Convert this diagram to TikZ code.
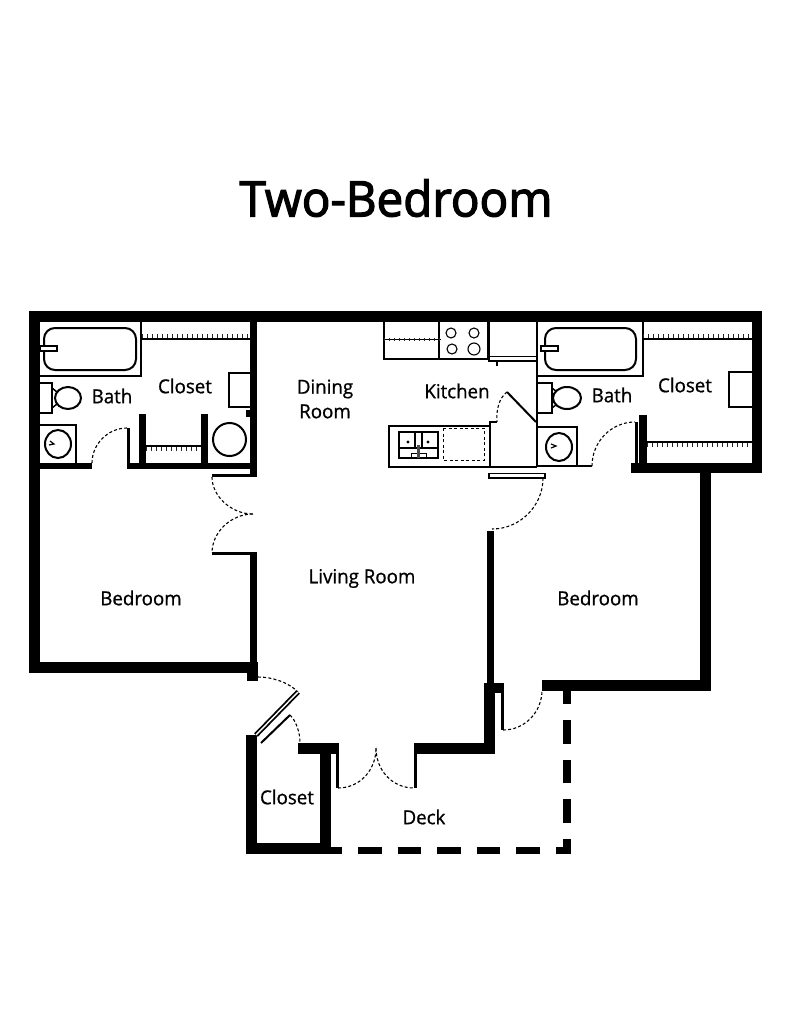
\documentclass[tikz,border=0pt]{standalone}
\usepackage{fontspec}
\setmainfont{Open Sans}
\newfontfamily\titlefont[FakeStretch=0.97,FakeBold=2.6]{Open Sans}
\newfontfamily\labelfont[FakeStretch=0.97,FakeBold=0.9]{Open Sans}

\tikzset{
	wall/.style={fill=black},
	thinline/.style={draw=black,line width=2pt},
	fixture/.style={draw=black,line width=2pt,fill=white},
	swing/.style={draw=black,line width=1.1pt,dash pattern=on 3pt off 2.2pt},
	shelfticks/.style={draw=black!85,line width=3.5pt,dash pattern=on 1.2pt off 3.8pt},
	deckrail/.style={draw=black,line width=7.5pt,dash pattern=on 23.5pt off 16pt,dash phase=12.5pt},
	roomlabel/.style={font=\labelfont\fontsize{19.3}{24.5}\selectfont,align=center,inner sep=0pt}
}

\begin{document}
\begin{tikzpicture}[x=1pt,y=-1pt]
	\useasboundingbox (0,0) rectangle (791,1024);
	\node[font=\titlefont\fontsize{49}{55}\selectfont,inner sep=0pt] (title) at (396,198) {Two-Bedroom};
	% outer walls
	\fill[wall] (29,311) rectangle (762,322);
	\fill[wall] (29,311) rectangle (40,673);
	\fill[wall] (29,662) rectangle (258,673);
	\fill[wall] (250,322) rectangle (257,476);
	\fill[wall] (250,553) rectangle (257,681);
	\fill[wall] (247,662) rectangle (258,681);
	\fill[wall] (40,463) rectangle (92,469);
	\fill[wall] (127,463) rectangle (257,469);
	\fill[wall] (139,414) rectangle (146,463);
	\fill[wall] (201,414) rectangle (208,463);
	\fill[wall] (246,410) rectangle (250,417);
	\fill[wall] (752,311) rectangle (762,473);
	\fill[wall] (631,463) rectangle (762,473);
	\fill[wall] (639,415) rectangle (647,463);
	\fill[wall] (700,463) rectangle (711,691);
	\fill[wall] (542,680) rectangle (711,691);
	\fill[wall] (487,531) rectangle (494,683);
	\fill[wall] (484,683) rectangle (495,754);
	\fill[wall] (484,683) rectangle (503,693);
	\fill[wall] (414,743) rectangle (495,754);
	\fill[wall] (246,735) rectangle (257,854);
	\fill[wall] (246,843) rectangle (331,854);
	\fill[wall] (320,743) rectangle (331,854);
	\fill[wall] (298,743) rectangle (338,754);
	% door jambs
	\fill[wall] (127,428) rectangle (129.5,463);
	\fill[wall] (212,474) rectangle (257,477);
	\fill[wall] (212,552) rectangle (257,555);
	\fill[wall] (336,743) rectangle (338.5,788);
	\fill[wall] (414,743) rectangle (416.5,788);
	\fill[wall] (501,683) rectangle (503.5,730);
	\fill[wall] (635,422) rectangle (638,463);
	% deck
	\draw[deckrail] (331,850.5) -- (567,850.5) -- (567,691);
	% door swings
	\draw[swing] (92,463) .. controls (92,444) and (108,428) .. (127,428);
	\draw[swing] (212,477) .. controls (212,496) and (231,514) .. (253,514);
	\draw[swing] (253,514) .. controls (231,514) and (212,532) .. (212,553);
	\draw[swing] (258,677) .. controls (272,677) and (288,682) .. (298,692);
	\draw[swing] (290,715) .. controls (296,721) and (300,732) .. (300,743);
	\draw[swing] (338,788) .. controls (360,788) and (376,770) .. (376,748);
	\draw[swing] (376,748) .. controls (376,770) and (392,788) .. (414,788);
	\draw[swing] (503,730) .. controls (525,730) and (542,712) .. (542,690);
	\draw[swing] (507,392) .. controls (499,398) and (496,410) .. (497,422);
	\draw[swing] (543,478) .. controls (543,506) and (520,529) .. (492,529);
	\draw[swing] (592,466) .. controls (592,442) and (611,422) .. (635,422);
	% closet bifold
	\draw[line width=5pt] (256,735) -- (298,692);
	\draw[white,line width=1.4pt] (256,735) -- (298,692);
	\draw[line width=2pt] (261,743) -- (290,715);
	% left bath
	\draw[thinline] (141,322) -- (141,376) -- (40,376);
	\draw[thinline,rounded corners=11pt] (44,328) rectangle (136,370);
	\draw[fixture,line width=1.5pt] (40,346) rectangle (57,351);
	\draw[thinline] (40,383) -- (52,383) -- (52,413) -- (40,413);
	\draw[line width=1.5pt] (52,388) -- (57,392);
	\draw[line width=1.5pt] (52,408) -- (57,404);
	\draw[fixture] (68,398) ellipse (13 and 11);
	\draw[thinline] (40,425) -- (76,425) -- (76,463);
	\draw[fixture] (58,444) ellipse (13 and 14);
	\draw[line width=1.2pt] (49,445) -- (54,444) -- (50,441);
	% left closet
	\draw[thinline] (142,339) -- (250,339);
	\draw[shelfticks] (142,336) -- (250,336);
	\draw[thinline] (146,446) -- (201,446);
	\draw[shelfticks] (146,449) -- (201,449);
	\draw[thinline] (250,373) -- (229,373) -- (229,407) -- (250,407);
	\draw[fixture] (229.5,439.5) circle (16.5);
	% kitchen cabinets and stove
	\draw[thinline] (384,322) -- (384,359) -- (488,359) -- (488,322);
	\draw[thinline] (439,322) -- (439,359);
	\draw[line width=1pt] (384,339) -- (441,339);
	\draw[shelfticks,line width=3pt] (384,339) -- (441,339);
	\draw[line width=1.1pt] (451,333) circle (5);
	\draw[line width=1.1pt] (474,333) circle (5);
	\draw[line width=1.1pt] (452,349) circle (5);
	\draw[line width=1.1pt] (474,349) circle (6);
	% fridge
	\draw[thinline] (489,322) -- (489,361) -- (537,361);
	\draw[line width=1.2pt] (489,356.5) -- (537,356.5);
	\draw[line width=1.5pt] (497,361) -- (497,366);
	% partition and pantry
	\draw[thinline] (537,322) -- (537,467);
	\draw[thinline] (507,392) -- (536,422);
	\draw[thinline] (497,422) -- (490,422) -- (490,467);
	\draw[thinline] (490,426) -- (389,426) -- (389,467) -- (537,467);
	% kitchen sink
	\draw[line width=2pt] (399,432) rectangle (438,458);
	\draw[line width=1.1pt] (399,448) -- (438,448);
	\draw[line width=1.1pt] (415,432) -- (415,448);
	\draw[line width=1.1pt] (422,432) -- (422,448);
	\fill (408,442) circle (1.6);
	\fill (428,442) circle (1.6);
	\draw[line width=1pt] (411,458) -- (411,453) -- (426,453) -- (426,458);
	\draw[line width=3pt,black!70] (418.5,445) -- (418.5,458);
	\draw[line width=1pt,dash pattern=on 3pt off 2.5pt] (443,428) rectangle (484,460);
	% counter door strip
	\draw[line width=1.8pt,fill=white] (489,473.5) rectangle (545,478);
	% right bath
	\draw[thinline] (537,376) -- (643,376) -- (643,322);
	\draw[thinline,rounded corners=11pt] (545,328) rectangle (636,370);
	\draw[fixture,line width=1.5pt] (541,346) rectangle (558,351);
	\draw[thinline] (537,383) -- (552,383) -- (552,413) -- (537,413);
	\draw[line width=1.5pt] (552,388) -- (557,392);
	\draw[line width=1.5pt] (552,408) -- (557,404);
	\draw[fixture] (567,398) ellipse (14 and 11);
	\draw[thinline] (537,427) -- (577,427) -- (577,466);
	\draw[thinline] (537,466) -- (592,466);
	\draw[fixture] (559,447) ellipse (13 and 14);
	\draw[line width=1.2pt] (551,448) -- (556,446) -- (551,444);
	% right closet
	\draw[thinline] (643,339) -- (752,339);
	\draw[shelfticks] (643,336) -- (752,336);
	\draw[thinline] (647,442) -- (752,442);
	\draw[shelfticks] (647,445) -- (752,445);
	\draw[thinline] (752,372) -- (729,372) -- (729,407) -- (752,407);
	% room labels
	\node[roomlabel] (bathleft) at (112,396) {Bath};
	\node[roomlabel] (closetleft) at (185,386) {Closet};
	\node[roomlabel] (dining) at (325,399) {Dining\\Room};
	\node[roomlabel] (kitchen) at (457,391) {Kitchen};
	\node[roomlabel] (bathright) at (612,395) {Bath};
	\node[roomlabel] (closetright) at (685,385) {Closet};
	\node[roomlabel] (bedroomleft) at (141,598) {Bedroom};
	\node[roomlabel] (living) at (362,578.5) {Living Room};
	\node[roomlabel] (bedroomright) at (598,598) {Bedroom};
	\node[roomlabel] (closetfront) at (287,797) {Closet};
	\node[roomlabel] (deck) at (424,817) {Deck};
\end{tikzpicture}
\end{document}
